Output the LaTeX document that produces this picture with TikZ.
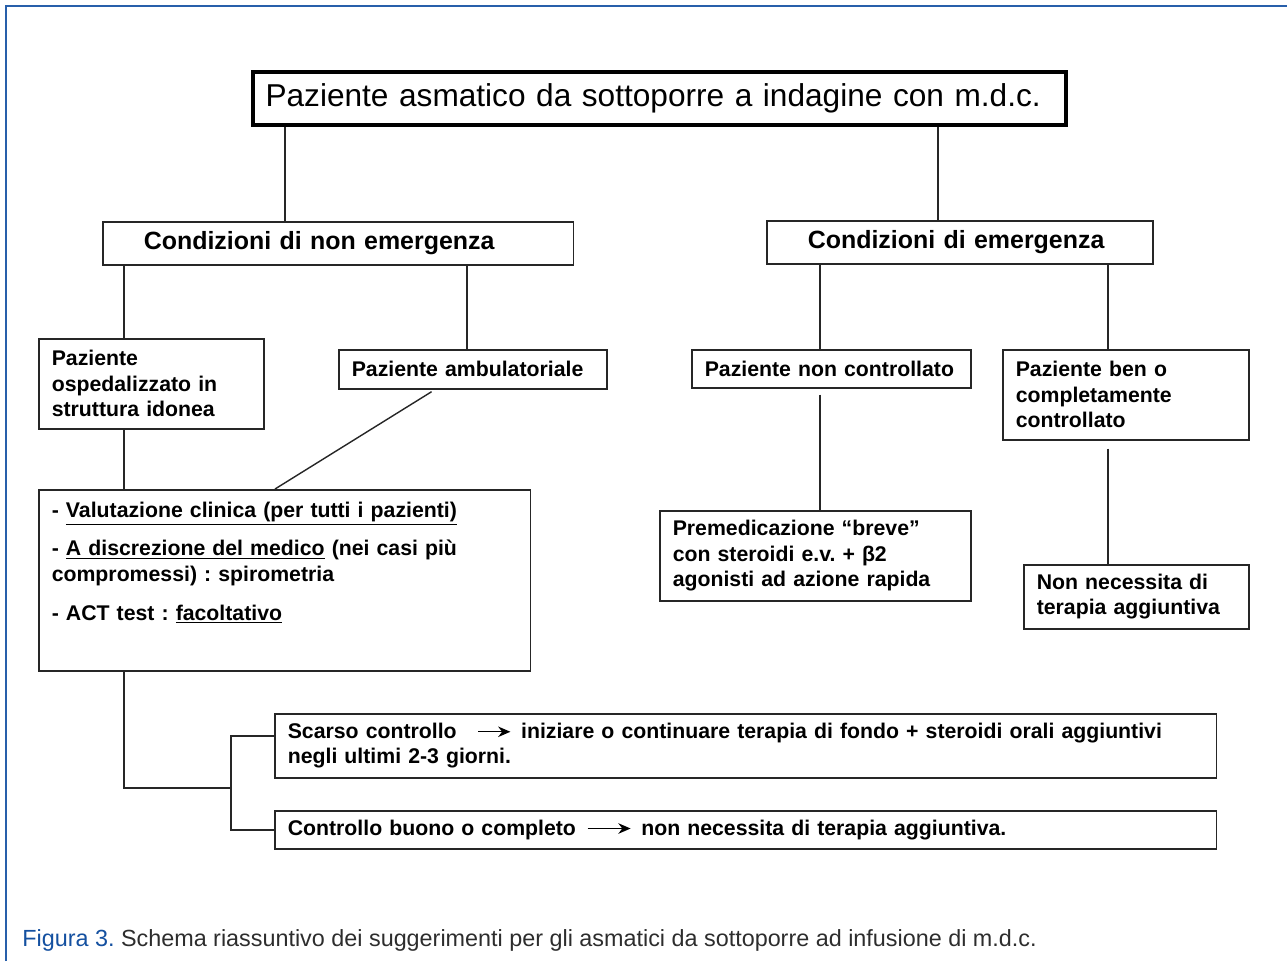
\documentclass[tikz,border=0pt]{standalone}
\usepackage{fontspec}
\setmainfont{Liberation Sans}
\usetikzlibrary{arrows.meta,positioning}

\definecolor{frameblue}{RGB}{40,95,170}
\definecolor{capblue}{RGB}{20,80,160}
\definecolor{capgray}{RGB}{45,45,45}

\newcommand{\txtarrow}[1]{\tikz[baseline=-0.6ex]\draw[-{Stealth[length=7pt,width=6pt]},line width=0.8pt] (0,0) -- (#1,0);}

\begin{document}
\frenchspacing
\begin{tikzpicture}[x=0.02cm,y=-0.02cm,
	box/.style={draw=black!85,line width=0.9pt,anchor=north west,align=left,
		inner xsep=0.26cm,inner ysep=0.1cm,font=\bfseries\fontsize{12.1}{14.5}\selectfont},
	headbox/.style={draw=black!85,line width=0.9pt,anchor=north west,align=left,
		inner xsep=0.82cm,inner ysep=0pt,minimum height=0.86cm,
		font=\bfseries\fontsize{14.2}{17}\selectfont},
	link/.style={draw=black!85,line width=0.8pt}]

	\useasboundingbox (0,0) rectangle (1287,961);
	\draw[frameblue,line width=1.3pt] (6,961) -- (6,6) -- (1287,6);

	% header and the two branches
	\node[draw=black,line width=2.3pt,anchor=north west,align=left,inner xsep=0.25cm,inner ysep=0pt,
		text width=15.76cm,minimum height=1.06cm,
		font=\fontsize{18}{22}\selectfont] (top) at (251,70) {\raisebox{-3pt}{Paziente asmatico da sottoporre a indagine con m.d.c.}};
	\node[headbox,text width=7.78cm] (nonem) at (102,221) {\raisebox{-2pt}{Condizioni di non emergenza}};
	\node[headbox,text width=6.08cm] (em) at (766,220) {\raisebox{-2pt}{Condizioni di emergenza}};

	% second level
	\node[box,text width=3.98cm,minimum height=1.8cm] (osp) at (38,338) {Paziente\\ospedalizzato in\\struttura idonea};
	\node[box,text width=4.84cm,minimum height=0.78cm] (amb) at (338,349) {Paziente ambulatoriale};
	\node[box,text width=5.06cm,minimum height=0.76cm] (nonctrl) at (691,349) {Paziente non controllato};
	\node[box,text width=4.40cm,minimum height=1.8cm] (ben) at (1002,349) {Paziente ben o\\completamente\\controllato};

	% third level
	\node[box,text width=9.32cm,inner ysep=0.2cm,text height=0.35cm,text depth=2.87cm] (valut) at (38,489)
		{- \underline{Valutazione clinica (per tutti i pazienti)}\par\vspace{7.5pt}
		- \underline{A discrezione del medico} (nei casi più\\compromessi) : spirometria\par\vspace{7.5pt}
		- ACT test : \underline{facoltativo}};
	\node[box,text width=5.70cm,minimum height=1.8cm] (premed) at (659,510) {Premedicazione “breve”\\con steroidi e.v. + β2\\agonisti ad azione rapida};
	\node[box,text width=3.98cm,minimum height=1.28cm] (nonnec) at (1023,564) {Non necessita di\\terapia aggiuntiva};

	% outcome boxes
	\node[box,text width=18.32cm,minimum height=1.28cm] (scarso) at (274,713)
		{Scarso controllo\hspace{0.42cm}\txtarrow{0.64cm}\hspace{0.2cm}iniziare o continuare terapia di fondo + steroidi orali aggiuntivi\\negli ultimi 2-3 giorni.};
	\node[box,text width=18.32cm,minimum height=0.76cm] (ctrl) at (274,810)
		{Controllo buono o completo\hspace{0.22cm}\txtarrow{0.86cm}\hspace{0.2cm}non necessita di terapia aggiuntiva.};

	% connectors
	\coordinate (c1) at (285,0);
	\coordinate (c2) at (938,0);
	\coordinate (c3) at (124,0);
	\coordinate (c4) at (467,0);
	\coordinate (c5) at (820,0);
	\coordinate (c6) at (1108,0);
	\coordinate (c7) at (435,0);
	\coordinate (c8) at (275,0);
	\coordinate (bus) at (231,788);

	\draw[link] (top.south -| c1) -- (nonem.north -| c1);
	\draw[link] (top.south -| c2) -- (em.north -| c2);
	\draw[link] (nonem.south -| c3) -- (osp.north -| c3);
	\draw[link] (nonem.south -| c4) -- (amb.north -| c4);
	\draw[link] (em.south -| c5) -- (nonctrl.north -| c5);
	\draw[link] (em.south -| c6) -- (ben.north -| c6);
	\draw[link] (osp.south -| c3) -- (valut.north -| c3);
	\draw[link,shorten <=0.08cm] (amb.south -| c7) -- (valut.north -| c8);
	\draw[link,shorten <=0.12cm] (nonctrl.south -| c5) -- (premed.north -| c5);
	\draw[link,shorten <=0.16cm] (ben.south -| c6) -- (nonnec.north -| c6);
	\draw[link] (valut.south -| c3) |- (bus);
	\draw[link] ([yshift=0.2cm]scarso.west) -| (bus) |- (ctrl.west);

	% caption
	\node[anchor=base west,inner sep=0pt,font=\fontsize{13.3}{16}\selectfont] (caption) at (22,946)
		{\textcolor{capblue}{Figura 3.} \textcolor{capgray}{Schema riassuntivo dei suggerimenti per gli asmatici da sottoporre ad infusione di m.d.c.}};
\end{tikzpicture}
\end{document}
